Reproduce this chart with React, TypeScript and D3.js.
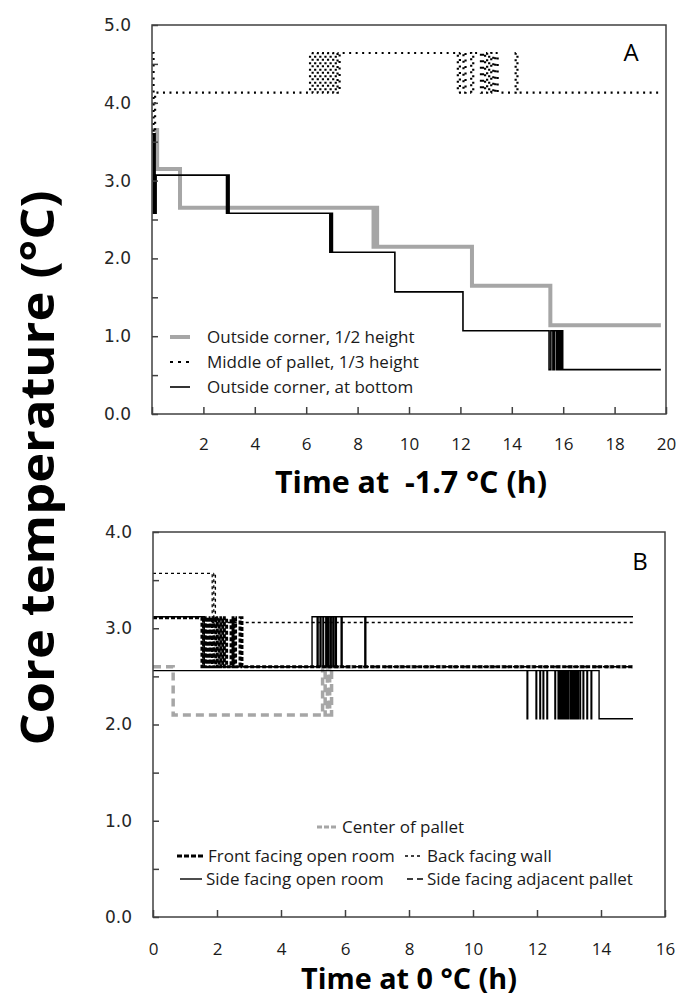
import React, { useEffect, useRef } from 'react';
import * as d3 from 'd3';

// ---- Panel A: time at -1.7 °C ----
const aHalfTime = [0, 0.2, 1.09, 8.62, 8.68, 8.76, 12.45, 15.5, 19.8];
const aHalfTemp = [3.65, 3.15, 2.65, 2.15, 2.65, 2.15, 1.65, 1.14, 1.14];

const aMiddleTime = [0, 0.06, 0.12, 6.15, 6.25, 6.35, 6.45, 6.55, 6.65, 6.75, 6.85, 6.95, 7.05, 7.15, 7.22, 7.3,
  11.9, 11.98, 12.12, 12.2, 12.42, 12.5, 12.8, 12.88, 12.96, 13.04, 13.12, 13.2, 13.28, 13.36, 13.45, 14.15, 14.22, 19.8];
const aMiddleTemp = [4.64, 3.62, 4.13, 4.64, 4.13, 4.64, 4.13, 4.64, 4.13, 4.64, 4.13, 4.64, 4.13, 4.64, 4.13, 4.64,
  4.13, 4.64, 4.13, 4.64, 4.13, 4.64, 4.13, 4.64, 4.13, 4.64, 4.13, 4.64, 4.13, 4.64, 4.13, 4.64, 4.13, 4.13];

const aBottomTime = [0, 0.05, 0.09, 0.12, 0.16, 2.9, 2.96, 3.0, 6.92, 6.98, 7.02, 9.45, 12.1,
  15.45, 15.52, 15.6, 15.66, 15.74, 15.8, 15.86, 15.92, 15.98, 19.8];
const aBottomTemp = [3.6, 2.58, 3.6, 2.58, 3.07, 2.58, 3.07, 2.58, 2.08, 2.58, 2.08, 1.57, 1.07,
  0.57, 1.07, 0.57, 1.07, 0.57, 1.07, 0.57, 1.07, 0.57, 0.57];

const aLegend = ['Outside corner, 1/2 height', 'Middle of pallet, 1/3 height', 'Outside corner, at bottom'];
const aXTicks = [0, 2, 4, 6, 8, 10, 12, 14, 16, 18, 20];
const aYTicks = [0, 0.5, 1, 1.5, 2, 2.5, 3, 3.5, 4, 4.5, 5];

// ---- Panel B: time at 0 °C ----
const bCenterTime = [0, 0.63, 5.3, 5.38, 5.45, 5.52, 5.58, 15];
const bCenterTemp = [2.6, 2.1, 2.6, 2.1, 2.6, 2.1, 2.6, 2.6];

const bFrontTime = [0, 1.53, 1.58, 1.63, 1.68, 1.74, 1.79, 1.85, 1.9, 1.96, 2.01, 2.07, 2.12, 2.18, 2.23, 2.3,
  2.44, 2.5, 2.53, 2.58, 2.72, 2.78, 15];
const bFrontTemp = [3.11, 2.6, 3.11, 2.6, 3.11, 2.6, 3.11, 2.6, 3.11, 2.6, 3.11, 2.6, 3.11, 2.6, 3.11, 2.6,
  3.11, 2.6, 3.11, 2.6, 3.11, 2.6, 2.6];

const bBackTime = [0, 1.85, 1.9, 1.95, 15];
const bBackTemp = [3.57, 3.06, 3.57, 3.06, 3.06];

// side facing open room, lower logger: short dips before settling at 2.06
const bSideLowTime = [0, 11.69, 11.71, 11.97, 11.99, 12.09, 12.11, 12.19, 12.21, 12.31, 12.33, 12.56, 12.58,
  12.66, 12.68, 12.72, 12.74, 12.78, 12.8, 12.84, 12.86, 12.9, 12.92, 12.96, 12.98, 13.03, 13.05, 13.09, 13.11,
  13.15, 13.17, 13.21, 13.23, 13.27, 13.29, 13.34, 13.36, 13.44, 13.46, 13.56, 13.58, 13.69, 13.71, 13.94, 15];
const bSideLowTemp = [2.56, 2.06, 2.56, 2.06, 2.56, 2.06, 2.56, 2.06, 2.56, 2.06, 2.56, 2.06, 2.56,
  2.06, 2.56, 2.06, 2.56, 2.06, 2.56, 2.06, 2.56, 2.06, 2.56, 2.06, 2.56, 2.06, 2.56, 2.06, 2.56,
  2.06, 2.56, 2.06, 2.56, 2.06, 2.56, 2.06, 2.56, 2.06, 2.56, 2.06, 2.56, 2.06, 2.56, 2.06, 2.06];

const bSideHighTime = [0, 1.6, 4.97, 5.13, 5.16, 5.22, 5.25, 5.31, 5.33, 5.4, 5.43, 5.47, 5.5, 5.55, 5.57,
  5.62, 5.65, 5.7, 5.73, 5.88, 5.91, 6.62, 6.65, 15];
const bSideHighTemp = [3.12, 2.6, 3.12, 2.6, 3.12, 2.6, 3.12, 2.6, 3.12, 2.6, 3.12, 2.6, 3.12, 2.6, 3.12,
  2.6, 3.12, 2.6, 3.12, 2.6, 3.12, 2.6, 3.12, 3.12];

const bAdjTime = [0, 1.6, 15];
const bAdjTemp = [3.12, 2.6, 2.6];

const bLegend = ['Center of pallet', 'Front facing open room', 'Back facing wall', 'Side facing open room', 'Side facing adjacent pallet'];
const bXTicks = [0, 2, 4, 6, 8, 10, 12, 14, 16];
const bYTicks = [0, 0.5, 1, 1.5, 2, 2.5, 3, 3.5, 4];

const GRAY = '#a6a6a6';
const AXIS = '#404040';
const SANS = '"Open Sans", sans-serif';

const zip = (t, v) => t.map((d, i) => [d, v[i]]);

const App = () => {
  const ref = useRef(null);

  useEffect(() => {
    const svg = d3.select(ref.current);
    svg.selectAll('*').remove();

    const drawPanel = (p) => {
      const x = d3.scaleLinear().domain(p.xDomain).range(p.xRange);
      const y = d3.scaleLinear().domain(p.yDomain).range(p.yRange);
      const g = svg.append('g');

      const line = d3.line().x(d => x(d[0])).y(d => y(d[1])).curve(d3.curveStepAfter);
      p.series.forEach(s => {
        g.append('path')
          .datum(zip(s.time, s.temp))
          .attr('fill', 'none')
          .attr('stroke', s.color)
          .attr('stroke-width', s.width)
          .attr('stroke-dasharray', s.dash || null)
          .attr('d', line);
      });

      // frame
      g.append('rect')
        .attr('x', p.xRange[0]).attr('y', p.yRange[1])
        .attr('width', p.xRange[1] - p.xRange[0])
        .attr('height', p.yRange[0] - p.yRange[1])
        .attr('fill', 'none').attr('stroke', AXIS).attr('stroke-width', 1.5);

      const yAxis = g.append('g')
        .attr('transform', `translate(${p.xRange[0]},0)`)
        .call(d3.axisLeft(y).tickValues(p.yTicks).tickSizeInner(-6).tickSizeOuter(0).tickPadding(21)
          .tickFormat(d => (d % 1 === 0 ? d.toFixed(1) : '')));
      yAxis.select('.domain').remove();
      yAxis.selectAll('line').attr('stroke', AXIS).attr('stroke-width', 1.5);
      yAxis.selectAll('text').attr('font-family', '"DejaVu Sans", sans-serif').attr('font-size', 17).attr('fill', '#262626');

      const xAxis = g.append('g')
        .attr('transform', `translate(0,${p.yRange[0]})`)
        .call(d3.axisBottom(x).tickValues(p.xTicks).tickSizeInner(-7).tickSizeOuter(0).tickPadding(p.xPad)
          .tickFormat(d => (d === 0 && !p.zeroLabel ? '' : String(d))));
      xAxis.select('.domain').remove();
      xAxis.selectAll('line').attr('stroke', AXIS).attr('stroke-width', 1.5);
      xAxis.selectAll('text').attr('font-family', SANS).attr('font-size', 17).attr('fill', '#1a1a1a');

      g.append('text')
        .attr('x', p.titleX).attr('y', p.titleY)
        .attr('text-anchor', 'middle')
        .attr('font-family', SANS).attr('font-weight', 'bold').attr('font-size', p.titleSize)
        .attr('textLength', p.titleLen).attr('lengthAdjust', 'spacingAndGlyphs')
        .style('white-space', 'pre')
        .text(p.title);

      g.append('text')
        .attr('x', p.labelX).attr('y', p.labelY)
        .attr('text-anchor', 'middle')
        .attr('font-family', SANS).attr('font-size', 24)
        .text(p.label);

      p.legend.forEach(l => {
        g.append('line')
          .attr('x1', l.x1).attr('x2', l.x2).attr('y1', l.y).attr('y2', l.y)
          .attr('stroke', l.s.color).attr('stroke-width', l.s.width)
          .attr('stroke-dasharray', l.s.dash || null);
        g.append('text')
          .attr('x', l.tx).attr('y', l.y + 6)
          .attr('font-family', SANS).attr('font-size', 17).attr('fill', '#1a1a1a')
          .text(l.text);
      });
    };

    const aHalf = { time: aHalfTime, temp: aHalfTemp, color: GRAY, width: 4 };
    const aMiddle = { time: aMiddleTime, temp: aMiddleTemp, color: '#000', width: 2.2, dash: '2,4.5' };
    const aBottom = { time: aBottomTime, temp: aBottomTemp, color: '#000', width: 1.6 };

    drawPanel({
      xDomain: [0, 20], xRange: [152, 666], yDomain: [0, 5], yRange: [414, 25],
      xTicks: aXTicks, yTicks: aYTicks, xPad: 24, zeroLabel: false,
      series: [aHalf, aMiddle, aBottom],
      title: 'Time at  -1.7 °C (h)', titleX: 411, titleY: 493, titleLen: 272, titleSize: 30,
      label: 'A', labelX: 631, labelY: 61,
      legend: [
        { s: aHalf, x1: 170, x2: 190, y: 337, tx: 207, text: aLegend[0] },
        { s: { ...aMiddle, dash: '3,5' }, x1: 170, x2: 190, y: 362, tx: 207, text: aLegend[1] },
        { s: aBottom, x1: 170, x2: 190, y: 387, tx: 207, text: aLegend[2] },
      ],
    });

    const bCenter = { time: bCenterTime, temp: bCenterTemp, color: GRAY, width: 3.5, dash: '8,5' };
    const bFront = { time: bFrontTime, temp: bFrontTemp, color: '#000', width: 3, dash: '4,2' };
    const bBack = { time: bBackTime, temp: bBackTemp, color: '#000', width: 1.3, dash: '3,3' };
    const bSideLow = { time: bSideLowTime, temp: bSideLowTemp, color: '#000', width: 1.4 };
    const bSideHigh = { time: bSideHighTime, temp: bSideHighTemp, color: '#000', width: 1.4 };
    const bAdj = { time: bAdjTime, temp: bAdjTemp, color: '#000', width: 1.3, dash: '6,4' };

    drawPanel({
      xDomain: [0, 16], xRange: [153, 665], yDomain: [0, 4], yRange: [917, 532],
      xTicks: bXTicks, yTicks: bYTicks, xPad: 26, zeroLabel: true,
      series: [bCenter, bAdj, bFront, bBack, bSideLow, bSideHigh],
      title: 'Time at 0 °C (h)', titleX: 409, titleY: 989, titleLen: 216, titleSize: 28,
      label: 'B', labelX: 640, labelY: 570,
      legend: [
        { s: { ...bCenter, width: 3, dash: '5,2' }, x1: 317, x2: 338, y: 827, tx: 342, text: bLegend[0] },
        { s: { ...bFront, dash: '5,2' }, x1: 177, x2: 203, y: 856, tx: 208, text: bLegend[1] },
        { s: bBack, x1: 405, x2: 423, y: 856, tx: 427, text: bLegend[2] },
        { s: bSideLow, x1: 180, x2: 202, y: 879, tx: 206, text: bLegend[3] },
        { s: bAdj, x1: 407, x2: 423, y: 879, tx: 427, text: bLegend[4] },
      ],
    });

    // shared y-axis title
    svg.append('text')
      .attr('transform', 'translate(54,468) rotate(-90)')
      .attr('text-anchor', 'middle')
      .attr('font-family', SANS).attr('font-weight', 'bold').attr('font-size', 46)
      .attr('textLength', 555).attr('lengthAdjust', 'spacingAndGlyphs')
      .text('Core temperature (°C)');
  }, []);

  return (
    <svg ref={ref} width={681} height={1003}
      style={{ position: 'absolute', left: 0, top: 0, background: '#fff' }} />
  );
};

export default App;
